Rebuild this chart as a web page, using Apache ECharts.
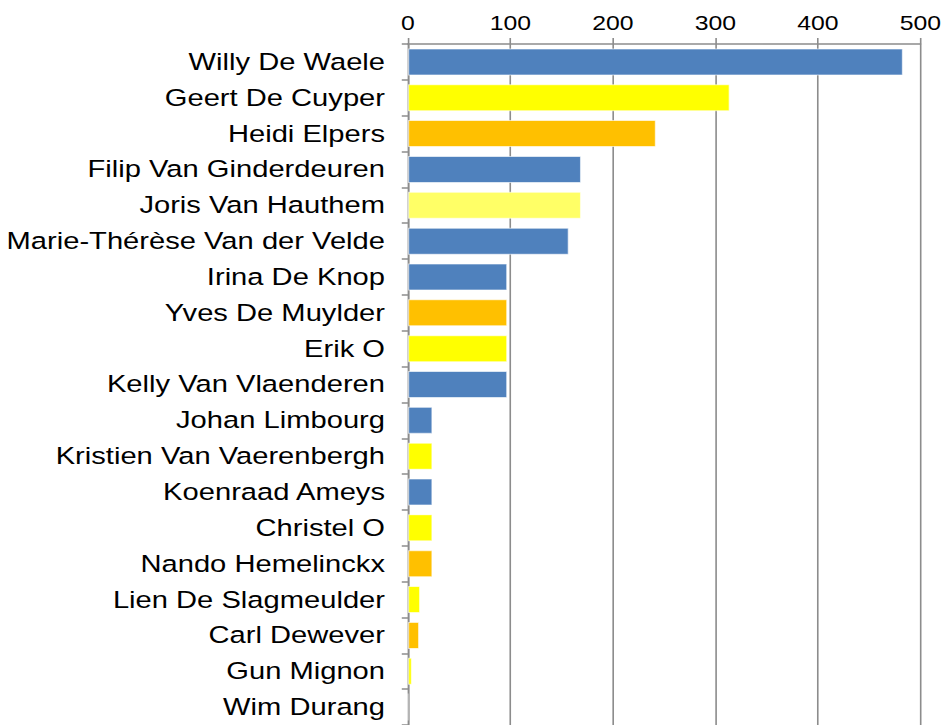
<!DOCTYPE html>
<html>
<head>
<meta charset="utf-8">
<script src="https://cdn.jsdelivr.net/npm/echarts@6/dist/echarts.min.js"></script>
<style>
  html, body { margin: 0; padding: 0; background: #fff; overflow: hidden; }
  /* het origineel is horizontaal uitgerekt: smaller tekenen en dan oprekken */
  #main { width: 762px; height: 725px; transform: scaleX(1.24); transform-origin: 0 0; }
</style>
</head>
<body>
<div id="main"></div>
<script>
// namen van boven naar onder
var names = ['Willy De Waele', 'Geert De Cuyper', 'Heidi Elpers', 'Filip Van Ginderdeuren',
  'Joris Van Hauthem', 'Marie-Thérèse Van der Velde', 'Irina De Knop', 'Yves De Muylder',
  'Erik O', 'Kelly Van Vlaenderen', 'Johan Limbourg', 'Kristien Van Vaerenbergh',
  'Koenraad Ameys', 'Christel O', 'Nando Hemelinckx', 'Lien De Slagmeulder',
  'Carl Dewever', 'Gun Mignon', 'Wim Durang'];
var values = [483, 314, 242, 169, 169, 157, 97, 97, 97, 97, 24, 24, 24, 24, 24, 12, 11, 4, 0];
var barColors = ['#4F81BD', '#FFFF00', '#FFC000', '#4F81BD', '#FFFF66', '#4F81BD', '#4F81BD',
  '#FFC000', '#FFFF00', '#4F81BD', '#4F81BD', '#FFFF00', '#4F81BD', '#FFFF00', '#FFC000',
  '#FFFF00', '#FFC000', '#FFFF00', '#4F81BD'];
var xTicks = [0, 100, 200, 300, 400, 500];

var chart = echarts.init(document.getElementById('main'), null, { renderer: 'svg' });
var option = {
  animation: false,
  textStyle: { fontFamily: 'Liberation Sans, Arial, sans-serif' },
  grid: { left: 329, right: 18.5, top: 44, height: 684, containLabel: false },
  xAxis: {
    type: 'value',
    position: 'top',
    min: xTicks[0],
    max: xTicks[xTicks.length - 1],
    interval: 100,
    axisLine: { show: true, lineStyle: { color: '#8c8c8c', width: 1.5 } },
    axisTick: { show: true, length: 6, lineStyle: { color: '#8c8c8c', width: 1.3 } },
    axisLabel: { color: '#000', fontSize: 20, margin: 11 },
    splitLine: { show: true, lineStyle: { color: '#8c8c8c', width: 1.3 } }
  },
  yAxis: {
    type: 'category',
    inverse: true,
    data: names,
    axisLine: { show: true, lineStyle: { color: '#8c8c8c', width: 1.3 } },
    axisTick: { show: true, length: 5, lineStyle: { color: '#8c8c8c', width: 1.5 } },
    axisLabel: { color: '#000', fontSize: 23.5, margin: 18.5 }
  },
  series: [{
    type: 'bar',
    barWidth: 27,
    data: values.map(function (v, i) {
      return { value: v, itemStyle: { color: barColors[i] } };
    }),
    itemStyle: { borderColor: 'rgba(255,255,255,0.6)', borderWidth: 1 }
  }]
};
chart.setOption(option);
</script>
</body>
</html>
